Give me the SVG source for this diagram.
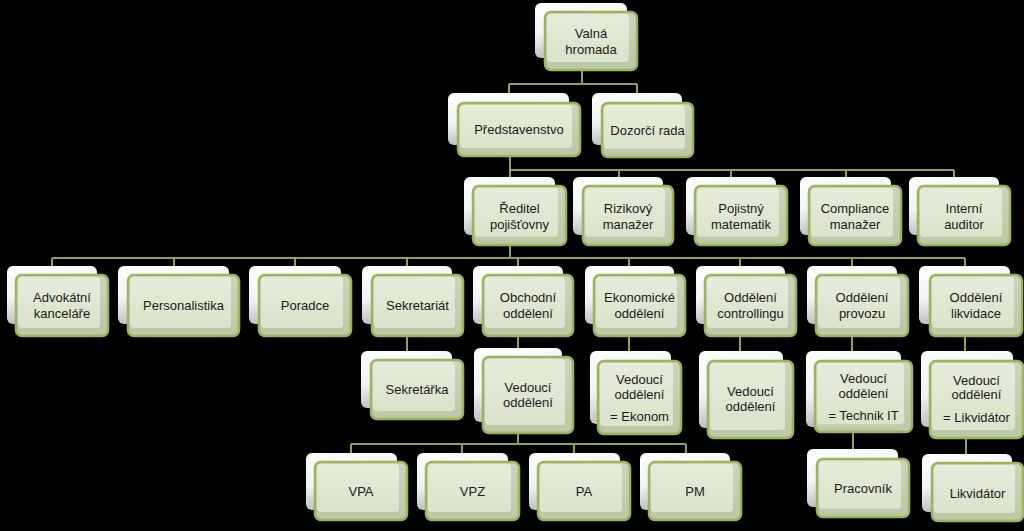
<svg xmlns="http://www.w3.org/2000/svg" width="1024" height="531" viewBox="0 0 1024 531">
<defs>
<linearGradient id="gBack" x1="0" y1="0" x2="0.3" y2="1">
<stop offset="0" stop-color="#ffffff"/>
<stop offset="0.55" stop-color="#f2f2f2"/>
<stop offset="1" stop-color="#b8b8b8"/>
</linearGradient>
<linearGradient id="gFront" x1="0" y1="0" x2="0" y2="1">
<stop offset="0" stop-color="#d3dcc2"/>
<stop offset="1" stop-color="#c2ceab"/>
</linearGradient>
<linearGradient id="gInner" x1="0" y1="0" x2="0" y2="1">
<stop offset="0" stop-color="#e6ecda"/>
<stop offset="1" stop-color="#dae3cb"/>
</linearGradient>
</defs>
<style>
.back{fill:url(#gBack);}
.front{fill:url(#gFront);stroke:#9bb45e;stroke-width:2.5;fill-opacity:0.97;}
.inner{fill:url(#gInner);}
.conn{fill:none;stroke:#8ba35a;stroke-width:2;}
text{font-family:"Liberation Sans",Arial,sans-serif;font-size:13px;fill:#1c1c1c;text-anchor:middle;}
</style>
<rect x="0" y="0" width="1024" height="531" fill="#000000"/>
<g id="connectors" class="conn">
<path d="M582,70 V84 M509,84 H637 M509,84 V93 M637,84 V93"/>
<path d="M510,156 V177 M510,170 H954 M619,170 V177 M731,170 V177 M846,170 V177 M954,170 V177"/>
<path d="M510,245 V258 M52,258 H965 M52,258 V266 M174,258 V266 M295,258 V266 M407,258 V266 M518,258 V266 M629,258 V266 M740,258 V266 M852,258 V266 M965,258 V266"/>
<path d="M407,336 V351 M518,336 V348 M629,336 V351 M740,336 V351 M852,336 V351 M965,336 V351"/>
<path d="M518,433 V444 M351,444 H686 M351,444 V453 M462,444 V453 M574,444 V453 M686,444 V453 M853,432 V449 M966,438 V454"/>
</g>

<g id="n-valna"><rect class="back" x="535" y="3" width="92" height="55" rx="6"/><rect class="front" x="545" y="12" width="92" height="58" rx="6"/><rect class="inner" x="547" y="14" width="82" height="48" rx="4"/><text x="591" y="37.5">Valná</text><text x="591" y="53.5">hromada</text></g>

<g id="n-predstavenstvo"><rect class="back" x="448" y="93" width="121" height="52" rx="6"/><rect class="front" x="458" y="103" width="122" height="53" rx="6"/><rect class="inner" x="460" y="105" width="112" height="43" rx="4"/><text x="519" y="134">Představenstvo</text></g>

<g id="n-dozorci"><rect class="back" x="592" y="93" width="90" height="52" rx="6"/><rect class="front" x="602" y="103" width="91" height="54" rx="6"/><rect class="inner" x="604" y="105" width="81" height="44" rx="4"/><text x="647.5" y="134.5">Dozorčí rada</text></g>

<g id="n-reditel"><rect class="back" x="464" y="177" width="91" height="58" rx="6"/><rect class="front" x="473" y="186" width="93" height="59" rx="6"/><rect class="inner" x="475" y="188" width="83" height="49" rx="4"/><text x="519.5" y="212.5">Ředitel</text><text x="519.5" y="228.5">pojišťovny</text></g>

<g id="n-rizikovy"><rect class="back" x="573" y="177" width="90" height="58" rx="6"/><rect class="front" x="583" y="186" width="90" height="59" rx="6"/><rect class="inner" x="585" y="188" width="80" height="49" rx="4"/><text x="628" y="212.5">Rizikový</text><text x="628" y="228.5">manažer</text></g>

<g id="n-pojistny"><rect class="back" x="686" y="177" width="90" height="58" rx="6"/><rect class="front" x="695" y="186" width="92" height="59" rx="6"/><rect class="inner" x="697" y="188" width="82" height="49" rx="4"/><text x="741" y="212.5">Pojistný</text><text x="741" y="228.5">matematik</text></g>

<g id="n-compliance"><rect class="back" x="800" y="177" width="91" height="58" rx="6"/><rect class="front" x="809" y="186" width="92" height="59" rx="6"/><rect class="inner" x="811" y="188" width="82" height="49" rx="4"/><text x="855" y="212.5">Compliance</text><text x="855" y="228.5">manažer</text></g>

<g id="n-interni"><rect class="back" x="909" y="177" width="90" height="58" rx="6"/><rect class="front" x="918" y="186" width="92" height="59" rx="6"/><rect class="inner" x="920" y="188" width="82" height="49" rx="4"/><text x="964" y="212.5">Interní</text><text x="964" y="228.5">auditor</text></g>

<g id="n-advokatni"><rect class="back" x="7" y="266" width="90" height="58" rx="6"/><rect class="front" x="16" y="275" width="92" height="61" rx="6"/><rect class="inner" x="18" y="277" width="82" height="51" rx="4"/><text x="62" y="301.5">Advokátní</text><text x="62" y="317.5">kanceláře</text></g>

<g id="n-personalistika"><rect class="back" x="118" y="266" width="111" height="58" rx="6"/><rect class="front" x="128" y="275" width="111" height="61" rx="6"/><rect class="inner" x="130" y="277" width="101" height="51" rx="4"/><text x="183.5" y="309.5">Personalistika</text></g>

<g id="n-poradce"><rect class="back" x="249" y="266" width="92" height="58" rx="6"/><rect class="front" x="259" y="275" width="92" height="61" rx="6"/><rect class="inner" x="261" y="277" width="82" height="51" rx="4"/><text x="305" y="309.5">Poradce</text></g>

<g id="n-sekretariat"><rect class="back" x="362" y="266" width="90" height="58" rx="6"/><rect class="front" x="372" y="275" width="91" height="61" rx="6"/><rect class="inner" x="374" y="277" width="81" height="51" rx="4"/><text x="417.5" y="309.5">Sekretariát</text></g>

<g id="n-obchodni"><rect class="back" x="473" y="266" width="90" height="58" rx="6"/><rect class="front" x="483" y="275" width="90" height="61" rx="6"/><rect class="inner" x="485" y="277" width="80" height="51" rx="4"/><text x="528" y="301.5">Obchodní</text><text x="528" y="317.5">oddělení</text></g>

<g id="n-ekonomicke"><rect class="back" x="585" y="266" width="89" height="58" rx="6"/><rect class="front" x="594" y="275" width="91" height="61" rx="6"/><rect class="inner" x="596" y="277" width="81" height="51" rx="4"/><text x="639.5" y="301.5">Ekonomické</text><text x="639.5" y="317.5">oddělení</text></g>

<g id="n-controlling"><rect class="back" x="696" y="266" width="89" height="58" rx="6"/><rect class="front" x="705" y="275" width="91" height="61" rx="6"/><rect class="inner" x="707" y="277" width="81" height="51" rx="4"/><text x="750.5" y="301.5">Oddělení</text><text x="750.5" y="317.5">controllingu</text></g>

<g id="n-provoz"><rect class="back" x="807" y="266" width="90" height="58" rx="6"/><rect class="front" x="816" y="275" width="92" height="61" rx="6"/><rect class="inner" x="818" y="277" width="82" height="51" rx="4"/><text x="862" y="301.5">Oddělení</text><text x="862" y="317.5">provozu</text></g>

<g id="n-likvidace"><rect class="back" x="919" y="266" width="91" height="58" rx="6"/><rect class="front" x="930" y="275" width="92" height="61" rx="6"/><rect class="inner" x="932" y="277" width="82" height="51" rx="4"/><text x="976" y="301.5">Oddělení</text><text x="976" y="317.5">likvidace</text></g>

<g id="n-sekretarka"><rect class="back" x="361" y="351" width="91" height="57" rx="6"/><rect class="front" x="371" y="360" width="92" height="59" rx="6"/><rect class="inner" x="373" y="362" width="82" height="49" rx="4"/><text x="417" y="393.5">Sekretářka</text></g>

<g id="n-vedouci-obchod"><rect class="back" x="474" y="348" width="88" height="74" rx="6"/><rect class="front" x="483" y="357" width="90" height="76" rx="6"/><rect class="inner" x="485" y="359" width="80" height="66" rx="4"/><text x="528" y="391.5">Vedoucí</text><text x="528" y="406.5">oddělení</text></g>

<g id="n-vedouci-ekonom"><rect class="back" x="590" y="351" width="81" height="73" rx="6"/><rect class="front" x="598" y="361" width="83" height="73" rx="6"/><rect class="inner" x="600" y="363" width="73" height="63" rx="4"/><text x="639.5" y="383.5">Vedoucí</text><text x="639.5" y="398.5">oddělení</text><text x="639.5" y="420.5">= Ekonom</text></g>

<g id="n-vedouci-controlling"><rect class="back" x="699" y="351" width="84" height="77" rx="6"/><rect class="front" x="708" y="361" width="85" height="77" rx="6"/><rect class="inner" x="710" y="363" width="75" height="67" rx="4"/><text x="750.5" y="396">Vedoucí</text><text x="750.5" y="411">oddělení</text></g>

<g id="n-vedouci-provoz"><rect class="back" x="806" y="351" width="95" height="76" rx="6"/><rect class="front" x="815" y="361" width="97" height="71" rx="6"/><rect class="inner" x="817" y="363" width="87" height="61" rx="4"/><text x="863.5" y="382.5">Vedoucí</text><text x="863.5" y="397.5">oddělení</text><text x="863.5" y="419.5">= Technik IT</text></g>

<g id="n-vedouci-likvidace"><rect class="back" x="921" y="351" width="92" height="76" rx="6"/><rect class="front" x="930" y="361" width="93" height="77" rx="6"/><rect class="inner" x="932" y="363" width="83" height="67" rx="4"/><text x="976.5" y="384.5">Vedoucí</text><text x="976.5" y="399">oddělení</text><text x="976.5" y="421.5">= Likvidátor</text></g>

<g id="n-vpa"><rect class="back" x="306" y="453" width="91" height="57" rx="6"/><rect class="front" x="315" y="462" width="92" height="58" rx="6"/><rect class="inner" x="317" y="464" width="82" height="48" rx="4"/><text x="361" y="496">VPA</text></g>

<g id="n-vpz"><rect class="back" x="417" y="453" width="91" height="57" rx="6"/><rect class="front" x="426" y="462" width="93" height="58" rx="6"/><rect class="inner" x="428" y="464" width="83" height="48" rx="4"/><text x="472.5" y="496">VPZ</text></g>

<g id="n-pa"><rect class="back" x="529" y="453" width="91" height="57" rx="6"/><rect class="front" x="538" y="462" width="92" height="58" rx="6"/><rect class="inner" x="540" y="464" width="82" height="48" rx="4"/><text x="584" y="496">PA</text></g>

<g id="n-pm"><rect class="back" x="640" y="453" width="90" height="57" rx="6"/><rect class="front" x="649" y="462" width="92" height="58" rx="6"/><rect class="inner" x="651" y="464" width="82" height="48" rx="4"/><text x="695" y="496">PM</text></g>

<g id="n-pracovnik"><rect class="back" x="807" y="449" width="91" height="58" rx="6"/><rect class="front" x="817" y="459" width="92" height="58" rx="6"/><rect class="inner" x="819" y="461" width="82" height="48" rx="4"/><text x="863" y="492.5">Pracovník</text></g>

<g id="n-likvidator"><rect class="back" x="922" y="454" width="90" height="58" rx="6"/><rect class="front" x="932" y="463" width="91" height="58" rx="6"/><rect class="inner" x="934" y="465" width="81" height="48" rx="4"/><text x="977.5" y="497.5">Likvidátor</text></g>
</svg>
